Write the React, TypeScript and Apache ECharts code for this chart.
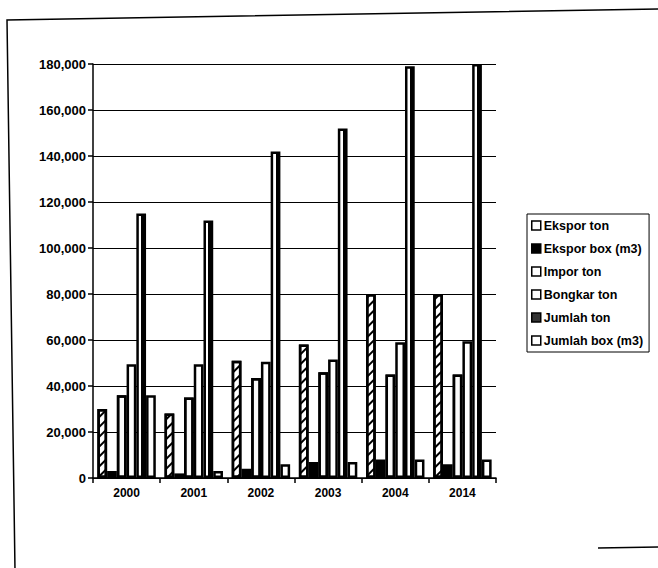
import React, { useEffect, useRef } from "react";
import * as echarts from "echarts";

// Years on the category axis
const years = ["2000", "2001", "2002", "2003", "2004", "2014"];

// Series values (ton / m3)
const eksporTon = [30000, 28000, 51000, 58000, 80000, 80000];
const eksporBox = [3000, 2000, 4000, 7000, 8000, 6000];
const imporTon = [36000, 35000, 43500, 46000, 45000, 45000];
const bongkarTon = [49500, 49500, 50500, 51500, 59000, 59500];
const jumlahTon = [115000, 112000, 142000, 152000, 179000, 180000];
const jumlahBox = [36000, 3000, 6000, 7000, 8000, 8000];

const seriesNames = [
  "Ekspor ton",
  "Ekspor box (m3)",
  "Impor ton",
  "Bongkar ton",
  "Jumlah ton",
  "Jumlah box (m3)",
];

// Y axis range
const yMin = 0;
const yMax = 180000;
const yStep = 20000;

const FONT = "Liberation Sans, Arial, sans-serif";

export default function App() {
  const ref = useRef<HTMLDivElement>(null);

  useEffect(() => {
    if (!ref.current) return;
    const chart = echarts.init(ref.current, null, { renderer: "svg" });

    const border = { borderColor: "#000", borderWidth: 2.5 };

    const styles: any[] = [
      {
        color: "#fff",
        ...border,
        decal: {
          symbol: "rect",
          symbolSize: 1,
          color: "#000",
          dashArrayX: [1, 0],
          dashArrayY: [2, 5],
          rotation: -Math.PI / 4,
        },
      },
      { color: "#000", ...border },
      {
        color: "#fbfbfb",
        ...border,
        decal: {
          symbol: "circle",
          symbolSize: 0.5,
          color: "#777",
          dashArrayX: [2, 3],
          dashArrayY: [2, 4],
          rotation: 0,
        },
      },
      { color: "#fff", ...border },
      {
        color: {
          type: "linear",
          x: 0,
          y: 0,
          x2: 1,
          y2: 0,
          colorStops: [
            { offset: 0, color: "#fff" },
            { offset: 0.5, color: "#fff" },
            { offset: 0.5, color: "#000" },
            { offset: 1, color: "#000" },
          ],
        },
        ...border,
      },
      { color: "#fff", ...border },
    ];

    const data = [eksporTon, eksporBox, imporTon, bongkarTon, jumlahTon, jumlahBox];

    const legendFills = ["#fff", "#000", "#fff", "#fff", "#333", "#fff"];

    chart.setOption({
      animation: false,
      backgroundColor: "#fff",
      textStyle: { fontFamily: FONT },
      grid: { left: 93, right: 162, top: 64, bottom: 90 },
      legend: {
        orient: "vertical",
        left: 527,
        top: 214,
        width: 130,
        padding: [5, 6, 5, 4],
        borderColor: "#000",
        borderWidth: 1,
        itemGap: 10,
        itemWidth: 9,
        itemHeight: 9,
        icon: "rect",
        textStyle: {
          fontFamily: FONT,
          fontWeight: "bold",
          fontSize: 12.5,
          color: "#000",
          padding: [0, 0, 0, -2],
        },
        data: seriesNames.map((name, i) => ({
          name,
          itemStyle: { color: legendFills[i], borderColor: "#000", borderWidth: 1.5, decal: "none" },
        })),
      },
      xAxis: {
        type: "category",
        data: years,
        axisLine: { lineStyle: { color: "#000", width: 1.5 } },
        axisTick: { show: true, length: 5, lineStyle: { color: "#000", width: 1.5 } },
        axisLabel: { color: "#000", fontWeight: "bold", fontSize: 12, fontFamily: FONT, margin: 9 },
      },
      yAxis: {
        type: "value",
        min: yMin,
        max: yMax,
        interval: yStep,
        axisLine: { show: true, lineStyle: { color: "#000", width: 1.5 } },
        axisTick: { show: true, length: 5, lineStyle: { color: "#000", width: 1.5 } },
        splitLine: { show: true, lineStyle: { color: "#000", width: 1 } },
        axisLabel: {
          color: "#000",
          fontWeight: "bold",
          fontSize: 13,
          fontFamily: FONT,
          margin: 7,
          formatter: (v: number) => v.toLocaleString("en-US"),
        },
      },
      series: seriesNames.map((name, i) => ({
        name,
        type: "bar",
        data: data[i],
        barGap: "0%",
        barCategoryGap: "13%",
        itemStyle: styles[i],
        emphasis: { disabled: true },
      })),
      graphic: [
        {
          type: "polyline",
          silent: true,
          shape: { points: [[15, 570], [7, 20], [660, 9]] },
          style: { stroke: "#000", lineWidth: 1.5, fill: null },
        },
        {
          type: "line",
          silent: true,
          shape: { x1: 598, y1: 548, x2: 660, y2: 547 },
          style: { stroke: "#000", lineWidth: 1.5 },
        },
      ],
    });

    return () => chart.dispose();
  }, []);

  return <div ref={ref} style={{ width: 658, height: 568, position: "absolute", left: 0, top: 0 }} />;
}
